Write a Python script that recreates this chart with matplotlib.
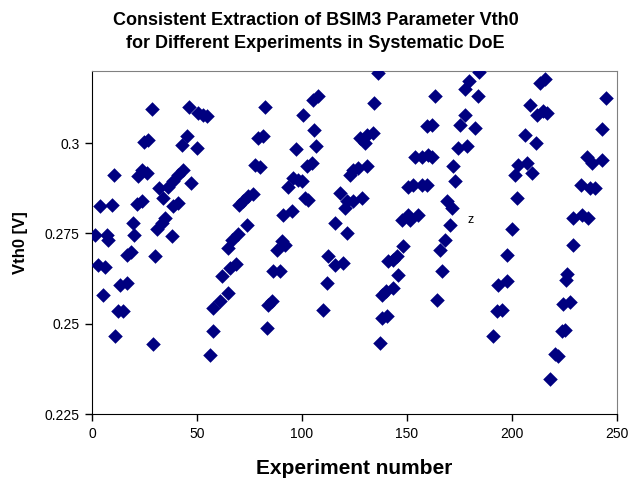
import matplotlib
matplotlib.use('Agg')
import matplotlib.pyplot as plt

# experiment number / extracted Vth0 [V]
exp_no = [
    1.4, 3.0, 3.8, 5.4, 6.2, 7.0, 7.8, 9.4, 10.5, 11.0, 12.5, 13.3, 14.9, 16.5, 16.5, 18.4,
    19.4, 20.1, 21.3, 22.0, 23.7, 23.7, 24.8, 26.0, 26.8, 28.4, 29.2, 30.0, 30.8, 32.0, 33.2,
    34.0, 34.8,
    36.3, 38.0, 38.7, 38.7, 41.1, 41.1, 42.7, 43.5, 45.1, 46.2, 47.1, 49.9, 50.6, 53.0, 54.6,
    56.2, 57.5, 57.8, 61.0, 61.8, 64.6, 64.9, 65.7, 66.5, 68.5, 69.5, 70.0,
    72.0, 73.7, 74.4, 76.8, 77.6, 79.2, 80.0, 81.6, 82.4, 83.2, 84.0, 85.6, 86.3, 88.0, 89.5,
    90.3, 91.1, 91.9, 93.5, 95.1, 95.9, 97.1, 98.2, 99.9, 100.6, 101.4, 102.2, 103.0, 104.6,
    105.4, 105.5, 106.5, 107.8,
    110.1, 111.8, 112.5, 115.7, 115.7, 118.1, 119.7, 120.5, 121.3, 121.3, 122.9, 124.4, 124.4,
    126.8, 127.6, 128.4, 130.0, 130.8, 130.8, 134.0, 134.4, 136.3,
    137.1, 137.9, 137.9, 140.0, 140.5, 141.1, 143.5, 143.5, 145.1, 145.9, 147.5, 148.2, 150.6,
    150.6, 151.4, 153.0, 153.8, 155.4, 157.0, 157.0, 159.4, 159.4, 160.1, 161.8, 161.8, 163.3,
    164.1, 165.7, 166.5, 168.1, 168.9, 170.5, 171.3, 172.1, 172.9, 174.4, 175.0, 177.5, 177.5,
    178.4, 179.5, 182.4, 184.0, 184.5,
    191.1, 192.7, 193.5, 195.1, 197.5, 197.5, 199.9, 201.4, 202.2, 203.0, 206.2, 207.0, 208.6,
    209.4, 211.5, 211.8, 213.5, 214.9, 215.7, 216.5,
    218.0, 220.5, 221.8, 223.7, 224.4, 225.2, 225.6, 226.4, 227.4, 229.2, 229.2, 233.2, 236.3,
    233.0, 237.0, 239.5, 235.6, 238.0, 242.7, 242.7, 244.6,
]
vth0 = [
    .2746, .2663, .2825, .2580, .2656, .2746, .2733, .2830, .2913, .2465, .2534, .2608, .2534, .2691, .2613, .2699,
    .2779, .2746, .2831, .2908, .2926, .2839, .3003, .2917, .3010, .3095, .2444, .2687, .2762, .2876, .2779,
    .2848, .2793,
    .2880, .2742, .2894, .2825, .2913, .2834, .2996, .2926, .3019, .3099, .2890, .2987, .3083, .3079, .3074,
    .2414, .2479, .2544, .2562, .2631, .2710, .2585, .2654, .2733, .2666, .2748, .2830,
    .2839, .2774, .2853, .2859, .2940, .3014, .2933, .3019, .3099, .2488, .2553, .2562, .2645, .2705, .2645,
    .2728, .2802, .2719, .2880, .2811, .2903, .2985, .2899, .2894, .3079, .2848, .2936, .2843, .2945,
    .3120, .3037, .2991, .3130,
    .2539, .2613, .2687, .2779, .2663, .2862, .2668, .2820, .2839, .2751, .2913, .2926, .2841,
    .2931, .3014, .2848, .3000, .3023, .2936, .3028, .3111, .3194,
    .2447, .2580, .2516, .2590, .2521, .2673, .2599, .2677, .2687, .2636, .2788, .2714, .2880,
    .2802, .2788, .2885, .2963, .2802, .2963, .2885, .3047, .2883, .2967, .3051, .2963, .3130,
    .2566, .2705, .2645, .2733, .2839, .2774, .2820, .2936, .2894, .2987, .3051, .3079, .3150,
    .2991, .3172, .3042, .3130, .3197,
    .2465, .2534, .2608, .2539, .2691, .2617, .2762, .2913, .2848, .2940, .3023, .2945, .3106,
    .2917, .3000, .3079, .3168, .3088, .3178, .3083,
    .2348, .2416, .2411, .2479, .2555, .2483, .2622, .2638, .2560, .2719, .2793, .2802, .2793,
    .2885, .2876, .2876, .2963, .2945, .2954, .3040, .3125,
]

plt.rcParams['font.family'] = ['Liberation Sans', 'DejaVu Sans']

fig = plt.figure(figsize=(6.31, 4.82), dpi=100)
ax = fig.add_axes([92 / 631, 68 / 482, 525 / 631, 343 / 482])

ax.scatter(exp_no, vth0, marker='D', s=55, color='#000080', linewidths=0, zorder=3)
ax.text(178.6, 0.2787, 'z', fontsize=9, va='center', ha='left')

ax.set_xlim(0, 250)
ax.set_ylim(0.225, 0.32)
ax.set_xticks([0, 50, 100, 150, 200, 250])
ax.set_yticks([0.225, 0.25, 0.275, 0.3])
ax.set_yticklabels(['0.225', '0.25', '0.275', '0.3'])
ax.tick_params(direction='out', length=5, width=1, labelsize=10, pad=4)

for side in ['left', 'bottom']:
    ax.spines[side].set_color('black')
for side in ['top', 'right']:
    ax.spines[side].set_color('#808080')

ax.set_xlabel('Experiment number', fontsize=15, fontweight='bold', labelpad=13)
ax.set_ylabel('Vth0 [V]', fontsize=12, fontweight='bold', labelpad=12)

fig.text(0.5, 0.976, 'Consistent Extraction of BSIM3 Parameter Vth0\nfor Different Experiments in Systematic DoE',
         ha='center', va='top', fontsize=13, fontweight='bold', linespacing=1.5)

fig.savefig('out.png', dpi=100)
